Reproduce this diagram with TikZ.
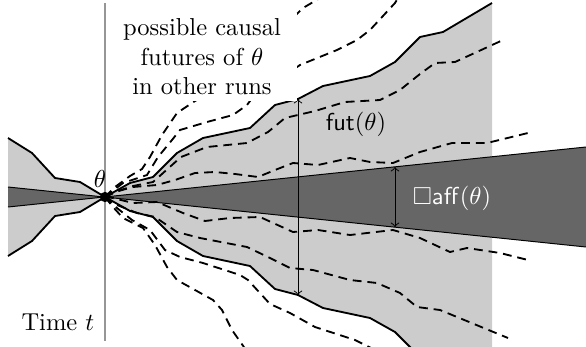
\documentclass[tikz,border=0pt]{standalone}
\usepackage{amssymb}
\usepackage{tikz}
\usetikzlibrary{arrows}
\definecolor{futgray}{RGB}{204,204,204}
\definecolor{affgray}{RGB}{102,102,102}
\definecolor{timegray}{RGB}{150,150,150}

\begin{document}
\begin{tikzpicture}[
    x=0.408pt, y=-0.408pt,
    bound/.style={line width=0.75pt, line join=round},
    cone/.style={line width=0.4pt},
    run/.style={dash pattern=on 3.6pt off 2.4pt, line width=0.75pt},
    arrow/.style={<->, >=to, line width=0.4pt},
    dot/.style={circle, fill=black, inner sep=0pt, minimum size=4.2pt}
]
    \useasboundingbox (0,0) rectangle (586,347);
    \clip (0,0) rectangle (586,347);

    \coordinate (th) at (105,197);
    \coordinate (ttop) at (105,3);
    \coordinate (tbot) at (105,341);

    % causal past and future
    \fill[futgray] (8,138) -- (32,153) -- (55,178) -- (80,182) -- (th)
        -- (80,212) -- (55,216) -- (32,241) -- (8,256) -- cycle;
    \fill[futgray] (th) -- (130,183) -- (153,177) -- (177,153) -- (203,138) -- (250,128)
        -- (275,105) -- (298,99) -- (323,86) -- (370,76) -- (395,62) -- (420,37)
        -- (443,32) -- (492,3) -- (492,391) -- (443,362) -- (420,357) -- (395,332)
        -- (370,318) -- (323,308) -- (298,295) -- (275,289) -- (250,266) -- (203,256)
        -- (177,241) -- (153,217) -- (130,211) -- cycle;

    % affected region
    \fill[affgray] (8,187) -- (th) -- (8,207) -- cycle;
    \fill[affgray] (th) -- (586,147) -- (586,247) -- cycle;

    % other runs
    \draw[run] (th) -- (115,187) -- (130,176) -- (142,169) -- (150,157) -- (162,135)
        -- (177,113) -- (195,101) -- (215,90) -- (260,50) -- (303,8) -- (320,-2);
    \draw[run] (th) -- (123,183) -- (147,175) -- (158,157) -- (172,140) -- (180,130)
        -- (207,122) -- (233,115) -- (247,105) -- (253,97) -- (300,65) -- (337,50)
        -- (357,40) -- (370,30) -- (395,3) -- (398,-2);
    \draw[run] (th) -- (118,191) -- (133,186) -- (153,182) -- (181,157) -- (207,147)
        -- (247,143) -- (268,132) -- (285,118) -- (315,111) -- (345,102) -- (380,100)
        -- (400,90) -- (420,74) -- (435,63) -- (455,62) -- (503,40);
    \draw[run] (th) -- (115,192) -- (133,187) -- (157,185) -- (175,180) -- (195,173)
        -- (215,172) -- (235,174) -- (258,177) -- (275,170) -- (293,163) -- (318,165)
        -- (350,158) -- (370,162) -- (393,163) -- (420,152) -- (452,143) -- (487,143)
        -- (528,133);
    \draw[run] (th) -- (113,198) -- (133,203) -- (157,202) -- (183,213) -- (205,221)
        -- (230,218) -- (260,217) -- (293,232) -- (318,230) -- (350,235) -- (393,230)
        -- (420,238) -- (450,252) -- (467,248) -- (500,253) -- (528,260);
    \draw[run] (th) -- (117,205) -- (137,213) -- (155,217) -- (177,232) -- (200,238)
        -- (247,247) -- (270,258) -- (290,268) -- (313,270) -- (350,280) -- (377,283)
        -- (400,293) -- (417,307) -- (440,310) -- (508,338);
    \draw[run] (th) -- (117,208) -- (132,220) -- (150,230) -- (165,250) -- (180,257)
        -- (203,263) -- (240,275) -- (248,280) -- (270,304) -- (290,313) -- (315,327)
        -- (355,340) -- (375,350);
    \draw[run] (th) -- (113,207) -- (123,218) -- (143,228) -- (155,245) -- (167,267)
        -- (177,280) -- (213,300) -- (222,310) -- (232,330) -- (246,350);

    % borders
    \draw[bound] (8,138) -- (32,153) -- (55,178) -- (80,182) -- (th)
        -- (80,212) -- (55,216) -- (32,241) -- (8,256);
    \draw[bound] (th) -- (130,183) -- (153,177) -- (177,153) -- (203,138) -- (250,128)
        -- (275,105) -- (298,99) -- (323,86) -- (370,76) -- (395,62) -- (420,37)
        -- (443,32) -- (492,3);
    \draw[bound] (th) -- (130,211) -- (153,217) -- (177,241) -- (203,256) -- (250,266)
        -- (275,289) -- (298,295) -- (323,308) -- (370,318) -- (395,332) -- (420,357);
    \draw[cone] (8,187) -- (586,247);
    \draw[cone] (8,207) -- (586,147);

    % time axis
    \draw[timegray, line width=0.6pt] (ttop) -- (tbot);
    \node[dot] (theta) at (th) {};

    % extents
    \coordinate (futtop) at (298,99);
    \coordinate (futbot) at (298,295);
    \coordinate (afftop) at (395,167);
    \coordinate (affbot) at (395,227);
    \draw[arrow] (futtop) -- (futbot);
    \draw[arrow] (afftop) -- (affbot);

    % labels
    \node[align=center, fill=white, inner xsep=6.5pt, inner ysep=2.5pt] (runs) at (202,57)
        {possible causal\\futures of $\theta$\\in other runs};
    \node (fut) at (356,124) {$\mathsf{fut}(\theta)$};
    \node[text=white] (aff) at (452,198) {$\square\mathsf{aff}(\theta)$};
    \node (thlabel) at (100,179) {$\theta$};
    \node[anchor=east] (time) at (103,322) {Time $t$};
\end{tikzpicture}
\end{document}
